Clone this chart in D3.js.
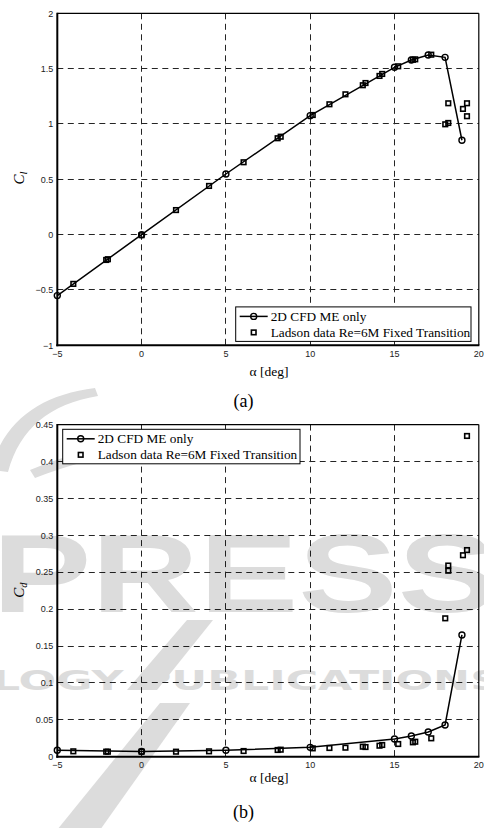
<!DOCTYPE html>
<html>
<head>
<meta charset="utf-8">
<script src="https://cdn.jsdelivr.net/npm/d3@7/dist/d3.min.js"></script>
<style>
  html, body { margin: 0; padding: 0; background: #fff; }
  svg { display: block; }
  .tick-label { font-family: "Liberation Sans", Arial, sans-serif; font-size: 9px; fill: #222; }
  .serif { font-family: "Liberation Serif", "Times New Roman", serif; fill: #000; }
</style>
</head>
<body>
<svg id="fig" width="484" height="828"></svg>
<script>
// Angle of attack ticks shared by both panels
const alphaTicks = [-5, 0, 5, 10, 15, 20];
const clTicks = [-1, -0.5, 0, 0.5, 1, 1.5, 2];
const clTickLabels = ["\u22121", "\u22120.5", "0", "0.5", "1", "1.5", "2"];
const cdTicks = [0, 0.05, 0.1, 0.15, 0.2, 0.25, 0.3, 0.35, 0.4, 0.45];
const cdTickLabels = ["0", "0.05", "0.1", "0.15", "0.2", "0.25", "0.3", "0.35", "0.4", "0.45"];
const alphaTickLabels = ["\u22125", "0", "5", "10", "15", "20"];

// 2D CFD, ME only
const cfdAlpha = [-5, 0, 5, 10, 15, 16, 17, 18, 19];
const cfdCl = [-0.551, 0.0, 0.548, 1.075, 1.512, 1.578, 1.623, 1.602, 0.853];
const cfdCd = [0.0087, 0.0070, 0.0087, 0.0127, 0.0240, 0.0280, 0.0335, 0.0430, 0.1650];

// Ladson experiment, Re = 6M, fixed transition
const ladsonAlpha = [-4.05, -2.1, -2.0, 0, 2.04, 4.0, 6.05, 8.07, 8.25, 10.15, 11.14, 12.09, 13.12, 13.28,
                     14.11, 14.27, 15.22, 16.09, 16.23, 17.18, 18.01, 18.19, 18.19, 19.06, 19.3, 19.3];
const ladsonCl = [-0.445, -0.229, -0.222, -0.005, 0.222, 0.440, 0.654, 0.871, 0.885, 1.081, 1.178, 1.268, 1.350, 1.370,
                  1.434, 1.452, 1.521, 1.580, 1.584, 1.626, 0.997, 1.009, 1.187, 1.136, 1.187, 1.070];
const ladsonCd = [0.0073, 0.0068, 0.0068, 0.0068, 0.0068, 0.0073, 0.0077, 0.0091, 0.0095, 0.0113, 0.0118, 0.0122, 0.0136, 0.0131,
                  0.0149, 0.0159, 0.0172, 0.0195, 0.0203, 0.0249, 0.1875, 0.252, 0.259, 0.273, 0.280, 0.4346];

const legendLabels = ["2D CFD ME only", "Ladson data Re=6M Fixed Transition"];

const svg = d3.select("#fig");

// Publisher watermark, faint, behind everything
const wm = svg.append("g").attr("fill", "#dcdcdc").attr("stroke", "none");
wm.append("path")
  .attr("d", "M -10 470 C 5 420, 40 395, 95 388 L 98 396 C 50 404, 20 428, 8 472 Z");
wm.append("path")
  .attr("d", "M 30 470 C 90 445, 160 432, 240 432 L 240 440 C 165 441, 95 455, 35 478 Z");
wm.append("text")
  .attr("x", -8).attr("y", 612)
  .attr("font-family", "Liberation Sans, Arial, sans-serif")
  .attr("font-weight", "bold")
  .attr("font-size", 112)
  .attr("textLength", 505).attr("lengthAdjust", "spacingAndGlyphs")
  .text("PRESS");
wm.append("text")
  .attr("x", -8).attr("y", 690)
  .attr("font-family", "DejaVu Sans, sans-serif")
  .attr("font-weight", "bold")
  .attr("font-size", 26)
  .attr("textLength", 510).attr("lengthAdjust", "spacingAndGlyphs")
  .text("LOGY PUBLICATIONS");
wm.append("path").attr("d", "M 187 620 L 213 620 L 157 690 L 127 690 Z");
wm.append("path").attr("d", "M 160 703 L 190 703 L 100 830 L 57 830 Z");

// snap thin lines onto pixel centres so the dashes stay crisp
const snap = v => Math.round(v - 0.5) + 0.5;

function drawPanel(opts) {
  const x = d3.scaleLinear().domain([-5, 20]).range([57.3, 478.8]);
  const y = d3.scaleLinear().domain(opts.yDomain).range(opts.yRange);
  const g = svg.append("g");
  const [x0, x1] = x.range();
  const [yb, yt] = y.range();

  // dashed grid
  const grid = g.append("g").attr("stroke", "#000").attr("stroke-width", 1)
    .attr("stroke-dasharray", "6,4.5").attr("fill", "none").attr("opacity", 0.85);
  alphaTicks.slice(1, -1).forEach(t => {
    grid.append("line").attr("x1", snap(x(t))).attr("x2", snap(x(t))).attr("y1", yt).attr("y2", yb);
  });
  opts.yTicks.slice(1, -1).forEach(t => {
    grid.append("line").attr("x1", x0).attr("x2", x1).attr("y1", snap(y(t))).attr("y2", snap(y(t)));
  });

  // frame: heavier left/bottom axes
  g.append("line").attr("x1", x0).attr("x2", x1).attr("y1", yt).attr("y2", yt).attr("stroke", "#000").attr("stroke-width", 1.2);
  g.append("line").attr("x1", x1).attr("x2", x1).attr("y1", yt).attr("y2", yb).attr("stroke", "#000").attr("stroke-width", 1.2);
  g.append("line").attr("x1", x0).attr("x2", x0).attr("y1", yt - 0.6).attr("y2", yb + 1).attr("stroke", "#000").attr("stroke-width", 2);
  g.append("line").attr("x1", x0 - 1).attr("x2", x1 + 0.6).attr("y1", yb).attr("y2", yb).attr("stroke", "#000").attr("stroke-width", 2);

  // tick labels
  alphaTicks.forEach((t, i) => {
    g.append("text").attr("class", "tick-label").attr("x", x(t)).attr("y", yb + opts.xLabelDy)
      .attr("text-anchor", "middle").text(alphaTickLabels[i]);
  });
  opts.yTicks.forEach((t, i) => {
    g.append("text").attr("class", "tick-label").attr("x", x0 - 4).attr("y", y(t) + 3.2)
      .attr("text-anchor", "end").text(opts.yTickLabels[i]);
  });

  // axis titles
  g.append("text").attr("class", "serif").attr("x", 269).attr("y", opts.xTitleY)
    .attr("text-anchor", "middle").attr("font-size", 13.5).text("\u03b1  [deg]");

  const yl = g.append("text").attr("class", "serif")
    .attr("transform", `translate(${opts.yTitleX},${opts.yTitleY}) rotate(-90)`)
    .attr("text-anchor", "middle").attr("font-size", 15).attr("font-style", "italic");
  yl.append("tspan").text("C");
  yl.append("tspan").attr("font-size", 10.5).attr("dy", 3).text(opts.sub);

  // CFD line with open circles
  const line = d3.line().x(d => x(d[0])).y(d => y(d[1]));
  const cfd = cfdAlpha.map((a, i) => [a, opts.cfd[i]]);
  g.append("path").datum(cfd).attr("d", line).attr("fill", "none").attr("stroke", "#000").attr("stroke-width", 1.5);
  g.append("g").selectAll("circle").data(cfd).join("circle")
    .attr("cx", d => x(d[0])).attr("cy", d => y(d[1])).attr("r", 3)
    .attr("fill", "none").attr("stroke", "#000").attr("stroke-width", 1.4);

  // experimental squares
  const exp = ladsonAlpha.map((a, i) => [a, opts.exp[i]]);
  g.append("g").selectAll("rect").data(exp).join("rect")
    .attr("x", d => x(d[0]) - 2.3).attr("y", d => y(d[1]) - 2.3)
    .attr("width", 4.6).attr("height", 4.6)
    .attr("fill", "none").attr("stroke", "#000").attr("stroke-width", 1.6);

  // legend
  const L = opts.legend;
  const lg = g.append("g").attr("transform", `translate(${L.x},${L.y})`);
  lg.append("rect").attr("x", 0).attr("y", 0).attr("width", L.w).attr("height", 34.5)
    .attr("fill", "#fff").attr("stroke", "#000").attr("stroke-width", 1);
  lg.append("line").attr("x1", 4).attr("x2", 32).attr("y1", 9.5).attr("y2", 9.5).attr("stroke", "#000").attr("stroke-width", 1.5);
  lg.append("circle").attr("cx", 18).attr("cy", 9.5).attr("r", 3).attr("fill", "none").attr("stroke", "#000").attr("stroke-width", 1.4);
  lg.append("rect").attr("x", 18 - 2.3).attr("y", 25.5 - 2.3).attr("width", 4.6).attr("height", 4.6)
    .attr("fill", "none").attr("stroke", "#000").attr("stroke-width", 1.6);
  legendLabels.forEach((t, i) => {
    lg.append("text").attr("class", "serif").attr("x", 35).attr("y", 9.5 + 16 * i + 4.5)
      .attr("font-size", 13.3).text(t);
  });

  // panel caption
  g.append("text").attr("class", "serif").attr("x", 243.5).attr("y", opts.captionY)
    .attr("text-anchor", "middle").attr("font-size", 18).text(opts.caption);
}

drawPanel({
  yDomain: [-1, 2], yRange: [345.3, 13.3],
  yTicks: clTicks, yTickLabels: clTickLabels,
  cfd: cfdCl, exp: ladsonCl, sub: "l",
  xLabelDy: 11.5, xTitleY: 375.5, yTitleX: 24, yTitleY: 178,
  legend: { x: 235.7, y: 306.9, w: 235.3 },
  caption: "(a)", captionY: 407
});

drawPanel({
  yDomain: [0, 0.45], yRange: [756.7, 424.6],
  yTicks: cdTicks, yTickLabels: cdTickLabels,
  cfd: cfdCd, exp: ladsonCd, sub: "d",
  xLabelDy: 11.5, xTitleY: 782, yTitleX: 24, yTitleY: 590,
  legend: { x: 62.7, y: 429.3, w: 237.3 },
  caption: "(b)", captionY: 818
});
</script>
</body>
</html>
